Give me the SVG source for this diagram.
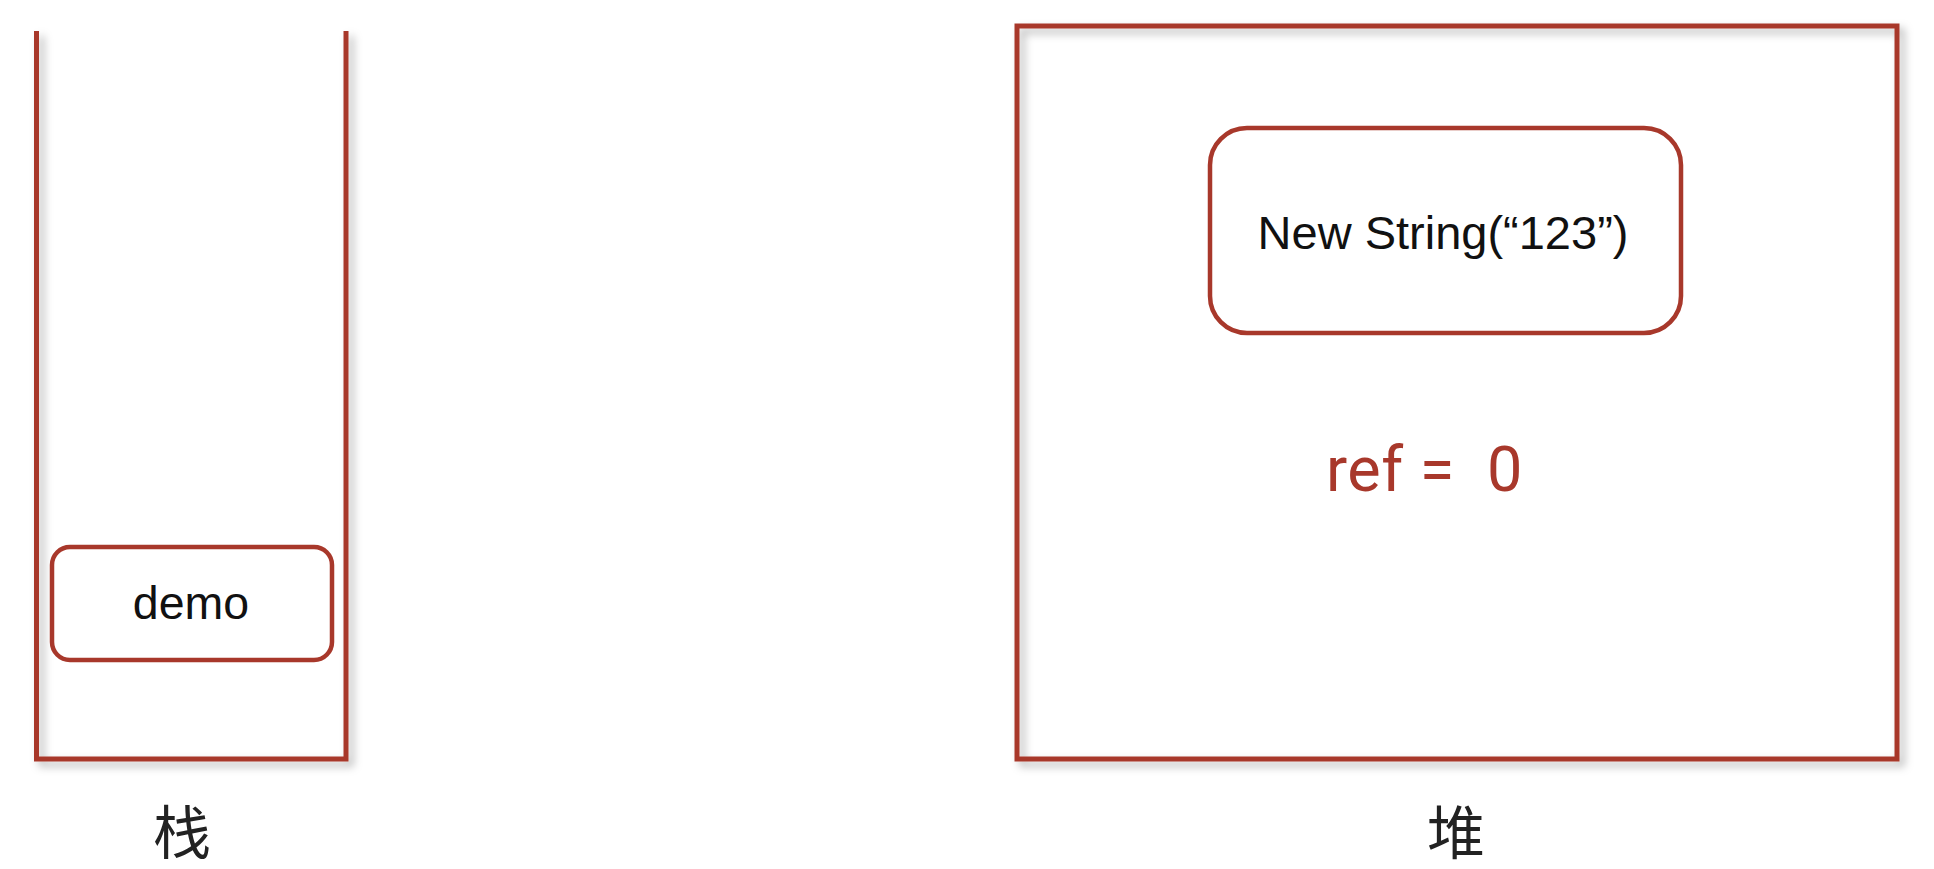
<svg xmlns="http://www.w3.org/2000/svg" width="1934" height="869" viewBox="0 0 1934 869">
  <style>
    .frame { fill: none; stroke: #a8382b; stroke-width: 5; stroke-linejoin: miter; }
    .box { fill: #ffffff; stroke: #a8382b; stroke-width: 4.5; }
    .lbl { font-family: "Liberation Sans", Arial, sans-serif; fill: #111111; text-anchor: middle; }
    .cjk { font-family: "Noto Sans CJK SC", "Noto Sans", sans-serif; fill: #222222; text-anchor: middle; font-size: 58px; }
    .ref { font-family: Roboto, "Noto Sans", sans-serif; fill: #a8382b; font-size: 63px; }
  </style>
  <defs>
    <filter id="shadow" x="-10%" y="-10%" width="120%" height="120%">
      <feDropShadow dx="5" dy="5" stdDeviation="4" flood-color="#000000" flood-opacity="0.28"/>
    </filter>
  </defs>
  <rect x="0" y="0" width="1934" height="869" fill="#ffffff"/>

  <g id="stack">
    <path class="frame" filter="url(#shadow)" d="M36.5,31 V759 H346 V31"/>
    <text class="cjk" x="182" y="854">栈</text>
  </g>

  <g id="demo">
    <rect class="box" x="52" y="547" width="280" height="113" rx="18" ry="18"/>
    <text class="lbl" x="191" y="619" font-size="46.5">demo</text>
  </g>

  <g id="heap">
    <rect class="frame" filter="url(#shadow)" x="1017" y="26" width="880" height="733"/>
    <text class="cjk" x="1456" y="854">堆</text>
  </g>

  <g id="string-object">
    <rect class="box" x="1210" y="128" width="471" height="205" rx="37" ry="37"/>
    <text class="lbl" x="1443" y="249" font-size="47">New String(“123”)</text>
  </g>

  <g id="ref-count">
    <text class="ref" x="1326" y="491" xml:space="preserve" letter-spacing="0.5">ref =  0</text>
  </g>

  <g id="connectors"/>
</svg>
